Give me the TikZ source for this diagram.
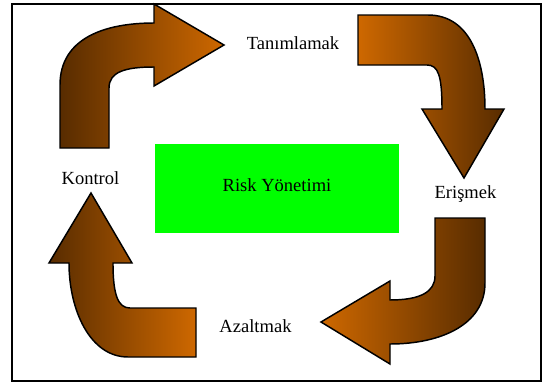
\documentclass[tikz,border=0pt]{standalone}
\usepackage{fontspec}
\setmainfont{Liberation Serif}
\usepackage{tikz}
\usetikzlibrary{positioning}
\definecolor{darkBrown}{RGB}{88,44,0}
\definecolor{burntOrange}{RGB}{206,104,0}
\definecolor{riskGreen}{RGB}{0,255,0}

\begin{document}
\begin{tikzpicture}[x=0.75pt, y=-0.75pt,
    bent/.style={draw=black, line width=1.1pt, line join=miter},
    darkleft/.style={bent, left color=darkBrown, right color=burntOrange},
    darkright/.style={bent, left color=burntOrange, right color=darkBrown},
    lbl/.style={anchor=base, inner sep=0pt, font=\fontsize{13.9}{16}\selectfont},
    riskbox/.style={fill=riskGreen, minimum width=183pt, minimum height=66.75pt,
      inner sep=0pt, text height=0.7em, text depth=0.2em, font=\fontsize{13.9}{16}\selectfont}]
      \useasboundingbox (0,0) rectangle (543,382);
      \draw[line width=1.4pt] (12,4) rectangle (541,381);
      % top left
      \draw[darkleft] (60,148) -- (60,85) .. controls (60,38) and (105,23) .. (154,23)
        -- (154,4) -- (224,45) -- (154,86) -- (154,67)
        .. controls (125,67) and (109,72) .. (109,88) -- (109,148) -- cycle;
      % top right
      \draw[darkright] (358,15) -- (428,15) .. controls (470,15) and (485,60) .. (485,109)
        -- (504,109) -- (464,178) -- (422,109) -- (442,109)
        .. controls (442,75) and (438,65) .. (427,65) -- (358,65) -- cycle;
      % bottom right
      \draw[darkright] (435,218) -- (485,218) -- (485,283) .. controls (485,325) and (440,344) .. (390,344)
        -- (390,364) -- (321,322) -- (390,281) -- (390,300)
        .. controls (420,300) and (435,292) .. (435,276) -- cycle;
      % bottom left
      \draw[darkleft] (196,308) -- (196,357) -- (128,357) .. controls (90,357) and (69,310) .. (69,263)
        -- (49,263) -- (91,193) -- (132,263) -- (113,263)
        .. controls (113,295) and (118,308) .. (130,308) -- cycle;
      \node[riskbox] (risk) at (277,188.5) {Risk Yönetimi};
      \node[lbl] (tanim) at (293,50) {Tanımlamak};
      \node[lbl] (erisim) at (465.5,198) {Erişmek};
      \node[lbl] (azalt) at (255.5,332) {Azaltmak};
      \node[lbl] (kontrol) at (90.5,184) {Kontrol};
\end{tikzpicture}
\end{document}
